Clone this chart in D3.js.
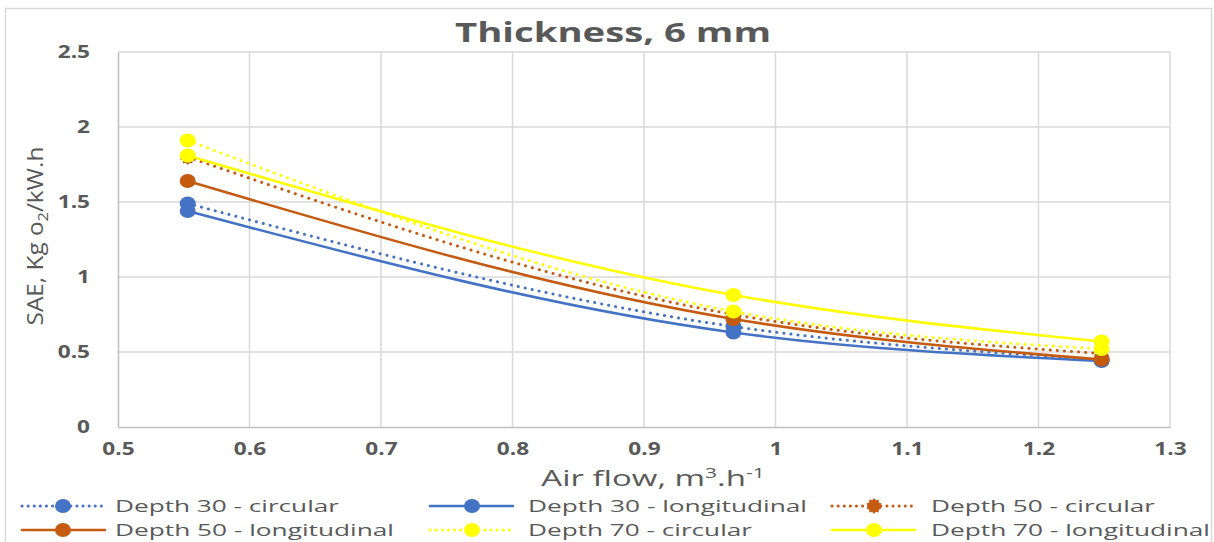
<!DOCTYPE html>
<html lang="en">
<head>
<meta charset="UTF-8">
<title>Thickness, 6 mm</title>
<script src="https://d3js.org/d3.v7.min.js"></script>
<style>
body{margin:0; background:#fff;}
svg text{font-family:"Open Sans", "DejaVu Sans", sans-serif; fill:#595959;}
</style>
</head>
<body>
<div class="chart"></div>
<script>
// data
var airFlow = [0.553, 0.968, 1.248];
var depth30Circ = [1.49, 0.67, 0.45];
var depth30Long = [1.44, 0.63, 0.44];
var depth50Circ = [1.80, 0.75, 0.49];
var depth50Long = [1.64, 0.72, 0.45];
var depth70Circ = [1.91, 0.77, 0.52];
var depth70Long = [1.81, 0.88, 0.57];
var xTicks = [0.5, 0.6, 0.7, 0.8, 0.9, 1, 1.1, 1.2, 1.3];
var yTicks = [0, 0.5, 1, 1.5, 2, 2.5];

var series = [
	{name: "Depth 30 - circular", vals: depth30Circ, color: "#4472C4", dot: true, star: false},
	{name: "Depth 30 - longitudinal", vals: depth30Long, color: "#4472C4", dot: false, star: false},
	{name: "Depth 50 - circular", vals: depth50Circ, color: "#C55A11", dot: true, star: true},
	{name: "Depth 50 - longitudinal", vals: depth50Long, color: "#C55A11", dot: false, star: false},
	{name: "Depth 70 - circular", vals: depth70Circ, color: "#FFFF00", dot: true, star: false},
	{name: "Depth 70 - longitudinal", vals: depth70Long, color: "#FFFF00", dot: false, star: false}
];

var w = 1214, h = 542;
var stretch = 1.33; // the picture is wider than tall, text looks stretched
var svg = d3.select(".chart").append("svg")
	.attr("width", w)
	.attr("height", h);

// outer chart border
svg.append("rect")
	.attr("x", 5.5).attr("y", 8.5)
	.attr("width", 1206).attr("height", 560)
	.attr("fill", "none")
	.attr("stroke", "#d9d9d9")
	.attr("stroke-width", 1.5);

var x = d3.scaleLinear().domain([0.5, 1.3]).range([118, 1170]);
var y = d3.scaleLinear().domain([0, 2.5]).range([427, 52]);

// gridlines
svg.append("g").selectAll("line.h")
	.data(yTicks.filter(function(d){ return d > 0; }))
	.enter().append("line")
	.attr("x1", x(0.5)).attr("x2", x(1.3))
	.attr("y1", function(d){ return y(d); })
	.attr("y2", function(d){ return y(d); })
	.attr("stroke", "#d9d9d9").attr("stroke-width", 1.5);

svg.append("g").selectAll("line.v")
	.data(xTicks.filter(function(d){ return d > 0.5; }))
	.enter().append("line")
	.attr("y1", y(0)).attr("y2", y(2.5))
	.attr("x1", function(d){ return x(d); })
	.attr("x2", function(d){ return x(d); })
	.attr("stroke", "#d9d9d9").attr("stroke-width", 1.5);

// axes
var xAxis = svg.append("g")
	.attr("transform", "translate(0," + y(0) + ")")
	.call(d3.axisBottom(x).tickValues(xTicks).tickSize(0).tickPadding(14).tickFormat(d3.format("")));
var yAxis = svg.append("g")
	.attr("transform", "translate(" + x(0.5) + ",0)")
	.call(d3.axisLeft(y).tickValues(yTicks).tickSize(0).tickPadding(28).tickFormat(d3.format("")));
[xAxis, yAxis].forEach(function(a){
	a.select(".domain").attr("stroke", "#bfbfbf").attr("stroke-width", 1.5);
	a.selectAll("text")
		.style("font-family", "\"Open Sans\", sans-serif")
		.attr("fill", "#595959")
		.attr("font-size", "17px")
		.attr("font-weight", "bold")
		.attr("transform", "scale(" + stretch + ",1)");
});
xAxis.selectAll("text").attr("dy", "0.85em");
yAxis.selectAll("text").attr("x", -28 / stretch);

// lines and markers
var line = d3.line()
	.x(function(d, i){ return x(airFlow[i]); })
	.y(function(d){ return y(d); })
	.curve(d3.curveMonotoneX);

// little burst marker for "Depth 50 - circular"
var burstType = {
	draw: function(ctx, size){
		var n = 10, ro = 8, ri = 6;
		for (var k = 0; k < n * 2; k++) {
			var r = k % 2 ? ri : ro;
			var a = k * Math.PI / n;
			if (k === 0) ctx.moveTo(r * Math.sin(a), -r * Math.cos(a));
			else ctx.lineTo(r * Math.sin(a), -r * Math.cos(a));
		}
		ctx.closePath();
	}
};
var burst = d3.symbol().type(burstType);

function addMarker(g, cx, cy, s){
	if (s.star) {
		g.append("path").attr("d", burst)
			.attr("transform", "translate(" + cx + "," + cy + ")")
			.attr("fill", s.color);
	} else {
		g.append("ellipse")
			.attr("cx", cx).attr("cy", cy)
			.attr("rx", 8).attr("ry", 7)
			.attr("fill", s.color);
	}
}

series.forEach(function(s){
	var g = svg.append("g");
	g.append("path")
		.datum(s.vals)
		.attr("d", line)
		.attr("fill", "none")
		.attr("stroke", s.color)
		.attr("stroke-width", s.dot ? 3 : 2.6)
		.attr("stroke-linecap", "round")
		.attr("stroke-dasharray", s.dot ? "0.1,7" : null);
	s.vals.forEach(function(v, i){
		addMarker(g, x(airFlow[i]), y(v), s);
	});
});

// title
svg.append("text")
	.attr("x", 613).attr("y", 42)
	.attr("text-anchor", "middle")
	.attr("font-size", "26px")
	.attr("font-weight", "bold")
	.attr("textLength", 316)
	.attr("lengthAdjust", "spacingAndGlyphs")
	.text("Thickness, 6 mm");

// y axis title
var yt = svg.append("g")
	.attr("transform", "translate(43,236) rotate(-90) scale(1.16,1)")
	.append("text")
	.attr("text-anchor", "middle")
	.attr("font-size", "21px");
yt.append("tspan").text("SAE, Kg o");
yt.append("tspan").attr("font-size", "14px").attr("dy", 5).text("2");
yt.append("tspan").attr("dy", -5).text("/kW.h");

// x axis title
var xt = svg.append("g")
	.attr("transform", "translate(653,486) scale(1.5,1)")
	.append("text")
	.attr("text-anchor", "middle")
	.attr("font-size", "22px");
xt.append("tspan").text("Air flow, m");
xt.append("tspan").attr("font-size", "14px").attr("dy", -8).text("3");
xt.append("tspan").attr("dy", 8).text(".h");
xt.append("tspan").attr("font-size", "14px").attr("dy", -8).text("-1");

// legend
var legendCols = [{lx: 22, mx: 63, tx: 115}, {lx: 430, mx: 472, tx: 528}, {lx: 832, mx: 874, tx: 931}];
var legendRows = [506, 530];
var legend = svg.append("g").selectAll("g")
	.data(series).enter().append("g");
legend.each(function(d, i){
	var g = d3.select(this);
	var c = legendCols[i % 3], ty = legendRows[Math.floor(i / 3)];
	g.append("line")
		.attr("x1", c.lx).attr("x2", c.lx + 83)
		.attr("y1", ty).attr("y2", ty)
		.attr("stroke", d.color)
		.attr("stroke-width", d.dot ? 3 : 2.6)
		.attr("stroke-linecap", "round")
		.attr("stroke-dasharray", d.dot ? "0.1,6" : null);
	addMarker(g, c.mx, ty, d);
	g.append("text")
		.attr("x", c.tx).attr("y", ty + 6)
		.attr("font-size", "17px")
		.attr("textLength", d.name.indexOf("circular") > 0 ? 224 : 279)
		.attr("lengthAdjust", "spacingAndGlyphs")
		.text(d.name);
});
</script>
</body>
</html>
